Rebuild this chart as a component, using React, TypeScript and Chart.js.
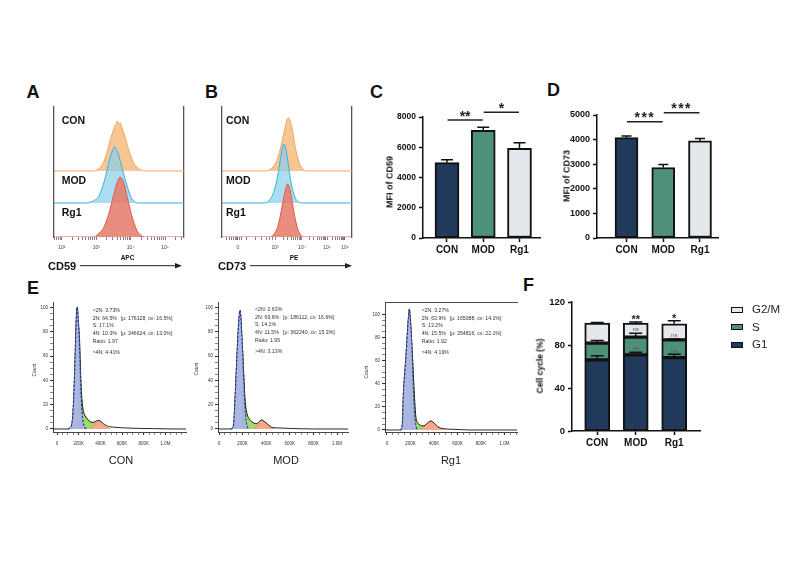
import React, { useEffect, useRef } from 'react';
import { Chart, registerables } from 'chart.js';

Chart.register(...registerables);
const FONT = "'Liberation Sans', Arial, Helvetica, sans-serif";
Chart.defaults.font.family = FONT;
Chart.defaults.color = '#1a1a1a';

type Pt = [number, number];

// ================= DATA =================
const groups = ['CON', 'MOD', 'Rg1'];

// A: CD59 (APC) histograms. x = log10 intensity, y = relative count (% of mode)
const cd59Con: Pt[] = [[1.77,0],[2.95,0],[3.05,4],[3.15,10],[3.25,24],[3.33,42],[3.4,61],[3.47,76],[3.55,91],[3.58,94],[3.62,100],[3.66,93],[3.7,96],[3.74,88],[3.8,76],[3.88,58],[3.95,40],[4.03,25],[4.1,14],[4.18,8],[4.27,3],[4.37,0],[5.55,0]];
const cd59Mod: Pt[] = [[1.77,0],[2.75,0],[2.85,2],[2.95,5],[3.05,10],[3.13,20],[3.2,32],[3.28,50],[3.35,70],[3.42,85],[3.48,95],[3.53,100],[3.58,96],[3.64,88],[3.69,76],[3.76,60],[3.83,44],[3.89,32],[3.96,18],[4.03,8],[4.1,3],[4.18,0],[5.55,0]];
const cd59Rg1: Pt[] = [[1.77,0],[2.95,0],[3.01,3],[3.2,14],[3.35,36],[3.5,69],[3.62,93],[3.69,100],[3.79,92],[3.89,69],[4.03,36],[4.18,11],[4.32,2],[4.4,0],[5.55,0]];
const cd59TickValues = [2, 3, 4, 5];
const cd59TickLabels = ['10²', '10³', '10⁴', '10⁵'];

// B: CD73 (PE) histograms. x = display channel (biexponential), y = relative count
const cd73Con: Pt[] = [[0,0],[340,0],[370,3],[400,10],[430,25],[455,48],[475,70],[490,88],[505,99],[515,100],[530,90],[545,72],[560,50],[580,27],[600,12],[620,4],[645,0],[1000,0]];
const cd73Mod: Pt[] = [[0,0],[330,0],[360,4],[390,14],[415,32],[435,55],[450,75],[462,90],[475,100],[488,95],[500,80],[515,58],[530,36],[550,17],[570,6],[595,1],[615,0],[1000,0]];
const cd73Rg1: Pt[] = [[0,0],[370,0],[395,4],[420,14],[440,30],[460,55],[478,78],[492,93],[505,100],[518,94],[532,78],[548,55],[565,32],[585,14],[605,4],[630,0],[1000,0]];
const cd73TickValues = [123, 408, 615, 808, 946];
const cd73TickLabels = ['0', '10³', '10⁴', '10⁵', '10⁶'];
const cd73LowTicks = [35, 55, 75, 90, 100, 110, 118, 135, 150, 192, 254, 305, 344, 369, 390];

// C: MFI of CD59
const mfiCd59 = [4980, 7120, 5930];
const mfiCd59Err = [200, 200, 370];
// D: MFI of CD73
const mfiCd73 = [4080, 2865, 3945];
const mfiCd73Err = [70, 125, 95];

// E: DNA content histograms (x in K units, y = count)
const conTotal: Pt[] = [[-40,0],[100,0],[120,1],[140,6],[150,18],[160,40],[166,57],[175,85],[181,97],[187,100],[195,90],[206,76],[214,55],[221,37],[230,24],[242,15],[258,11],[274,9],[297,6.5],[320,5.5],[335,5.5],[350,6],[370,6.8],[387,7.2],[405,6.2],[427,4.5],[450,3],[473,2.1],[520,1.5],[581,1.1],[650,0.8],[735,0.5],[888,0.3],[1011,0.1],[1060,0],[1190,0]];
const conG1: Pt[] = [[100,0],[120,1],[140,6],[150,18],[160,40],[166,57],[175,85],[181,97],[187,100],[195,89],[206,73],[214,50],[221,30],[230,15],[242,5],[255,1.5],[270,0]];
const conS: Pt[] = [[199,0],[206,76],[214,55],[221,37],[230,24],[242,15],[258,11],[274,9],[297,6.5],[320,5.5],[335,5.5],[350,5.8],[365,0]];
const conG2: Pt[] = [[300,0],[320,1.5],[340,3.5],[360,5.5],[375,6.6],[387,7],[400,6.1],[415,5],[430,3.5],[450,2],[470,1],[495,0]];

const modTotal: Pt[] = [[-10,0],[100,0],[115,1],[125,5],[136,25],[145,45],[155,66],[162,80],[169,91],[178,97.5],[185,92],[192,80],[199,66],[206,52],[213,38],[220,25],[230,16],[240,11.5],[258,8],[277,6],[298,4.8],[319,4.5],[340,6],[355,7.2],[362,7.4],[380,6.5],[404,4.7],[425,2.8],[447,1.4],[480,1],[540,0.7],[620,0.4],[700,0.2],[800,0],[1095,0]];
const modG1: Pt[] = [[100,0],[115,1],[125,5],[136,25],[145,45],[155,66],[162,80],[169,91],[178,97.5],[185,92],[192,80],[199,66],[206,50],[213,33],[220,18],[230,7],[240,2],[255,0]];
const modS: Pt[] = [[196,0],[199,66],[206,52],[213,38],[220,25],[230,16],[240,11.5],[258,8],[277,6],[298,4.8],[319,4.5],[335,5],[348,5.5],[360,0]];
const modG2: Pt[] = [[290,0],[305,1],[319,2.5],[335,4.8],[350,6.6],[362,7.4],[380,6.5],[404,4.7],[425,2.8],[447,1.2],[470,0.3],[485,0]];

const rg1Total: Pt[] = [[-20,0],[110,0],[125,1],[132,8],[139,30],[150,48],[162,65],[176,88],[183,98],[190,104.5],[197,98],[204,88],[212,73],[219,59],[226,44],[233,30],[240,18],[247,10],[258,6.5],[270,5],[285,4],[300,3.5],[320,4],[340,5.5],[360,7.3],[374,7.8],[390,7],[410,5],[430,3],[455,1.7],[480,1.2],[508,0.8],[560,0.6],[636,0.3],[700,0],[1110,0]];
const rg1G1: Pt[] = [[110,0],[125,1],[132,8],[139,30],[150,48],[162,65],[176,88],[183,98],[190,104.5],[197,98],[204,87],[212,70],[219,52],[226,33],[233,18],[240,8],[250,2],[262,0]];
const rg1S: Pt[] = [[211,0],[215,66],[219,59],[226,44],[233,30],[240,18],[247,10],[258,6.5],[270,5],[285,4],[300,3.5],[320,4],[335,4.5],[348,0]];
const rg1G2: Pt[] = [[280,0],[295,1],[310,2],[325,3.8],[340,5.5],[360,7.3],[374,7.8],[390,7],[410,5],[430,3],[455,1.5],[480,0.6],[500,0]];

const cycleXTickValues = [0, 200, 400, 600, 800, 1000];
const cycleXTickLabels = ['0', '200K', '400K', '600K', '800K', '1.0M'];
const cycleYTickValues = [0, 20, 40, 60, 80, 100];

const conStats = ['<2N: 3.73%', '2N: 64.5%', 'S: 17.1%', '4N: 10.3%', 'Ratio: 1.97', '>4N: 4.41%'];
const conFits = ['', '[μ: 176128, cv: 16.5%]', '', '[μ: 346624, cv: 13.0%]', '', ''];
const modStats = ['<2N: 2.63%', '2N: 69.6%', 'S: 14.1%', '4N: 11.5%', 'Ratio: 1.95', '>4N: 3.13%'];
const modFits = ['', '[μ: 186112, cv: 16.6%]', '', '[μ: 362240, cv: 15.3%]', '', ''];
const rg1Stats = ['<2N: 3.27%', '2N: 63.9%', 'S: 13.2%', '4N: 15.5%', 'Ratio: 1.92', '>4N: 4.19%'];
const rg1Fits = ['', '[μ: 165088, cv: 14.1%]', '', '[μ: 354816, cv: 22.1%]', '', ''];

// F: cell cycle distribution (%)
const phaseNames = ['G2/M', 'S', 'G1'];
const g1Pct = [66.1, 70.8, 68.3];
const sPct = [15.6, 16.6, 16.5];
const g2mPct = [18.7, 13.0, 15.0];
const g1Err = [3.8, 2.5, 3.2];
const sErr = [2.5, 3.6, 0.7];
const g2mErr = [0.6, 1.0, 2.8];

// ================= STYLE =================
const NAVY = '#213a5c';
const GREEN = '#4f9079';
const LIGHT = '#e4e7ec';
const barColors = [NAVY, GREEN, LIGHT];
const ridgeStyles = [
  { fill: 'rgba(246,190,134,0.88)', line: '#f0a45c' },
  { fill: 'rgba(140,206,234,0.72)', line: '#33b0dc' },
  { fill: 'rgba(230,125,108,0.88)', line: '#dd5a48' },
];

const fix = (size: number, horizontal: boolean) => (s: any) => {
  if (horizontal) s.height = size; else s.width = size;
  s.paddingLeft = 0; s.paddingRight = 0; s.paddingTop = 0; s.paddingBottom = 0;
};

const errorPlugin = (cap: number) => ({
  id: 'errBars',
  afterDatasetsDraw(chart: any) {
    const ctx = chart.ctx; const ys = chart.scales.y;
    chart.data.datasets.forEach((ds: any, di: number) => {
      if (!ds.errors) return;
      const meta = chart.getDatasetMeta(di);
      meta.data.forEach((el: any, i: number) => {
        const e = ds.errors[i];
        if (!e) return;
        const topVal = ys.getValueForPixel(el.y);
        const yTop = ys.getPixelForValue(topVal + e);
        ctx.save();
        ctx.strokeStyle = '#111'; ctx.lineWidth = 1.5;
        ctx.beginPath();
        ctx.moveTo(el.x, el.y); ctx.lineTo(el.x, yTop);
        ctx.moveTo(el.x - cap / 2, yTop); ctx.lineTo(el.x + cap / 2, yTop);
        ctx.stroke(); ctx.restore();
      });
    });
  },
});

const annotPlugin = (lines: any[], texts: any[]) => ({
  id: 'annot',
  afterDraw(chart: any) {
    const ctx = chart.ctx; const xs = chart.scales.x; const ys = chart.scales.y;
    lines.forEach((l) => {
      const y = ys.getPixelForValue(l.value);
      ctx.save(); ctx.strokeStyle = '#222'; ctx.lineWidth = 1.5;
      ctx.beginPath();
      ctx.moveTo(xs.getPixelForValue(l.from) + 0.5, y);
      ctx.lineTo(xs.getPixelForValue(l.to) - 0.5, y);
      ctx.stroke(); ctx.restore();
    });
    texts.forEach((t) => {
      ctx.save();
      ctx.font = `${t.weight || 'bold'} ${t.size}px ${FONT}`;
      ctx.fillStyle = t.color || '#222';
      ctx.textAlign = 'center';
      ctx.textBaseline = t.baseline || 'alphabetic';
      if (t.spacing) (ctx as any).letterSpacing = t.spacing + 'px';
      ctx.fillText(t.text, xs.getPixelForValue(t.x), ys.getPixelForValue(t.value));
      ctx.restore();
    });
  },
});

const baseOpts = {
  responsive: false,
  animation: false,
  events: [] as any[],
};

// ---------- ridge (A, B) ----------
function ridgeConfig(series: Pt[][], amps: number[], xMin: number, xMax: number, tickVals: number[], tickLabels: string[], minor: number[]) {
  const bases = [66, 34, 0];
  return {
    type: 'line',
    data: {
      datasets: series.map((pts, i) => ({
        data: pts.map(([x, h]) => ({ x, y: bases[i] + (h * amps[i]) / 100 })),
        fill: { value: bases[i] },
        backgroundColor: ridgeStyles[i].fill,
        borderColor: ridgeStyles[i].line,
        borderWidth: 1,
        pointRadius: 0,
        cubicInterpolationMode: 'monotone',
        order: 3 - i,
      })),
    },
    options: {
      ...baseOpts,
      layout: { autoPadding: false, padding: { left: 0, top: 7, right: 6, bottom: 0 } },
      plugins: { legend: { display: false }, tooltip: { enabled: false } },
      scales: {
        x: {
          type: 'linear', min: xMin, max: xMax, offset: false,
          afterBuildTicks: (s: any) => {
            const all = [...tickVals, ...minor].filter((v) => v >= xMin && v <= xMax).sort((a, b) => a - b);
            s.ticks = all.map((v) => ({ value: v }));
          },
          ticks: {
            autoSkip: false, maxRotation: 0, font: { size: 5 }, color: '#444', padding: 5,
            callback: (v: number) => {
              const k = tickVals.findIndex((t) => Math.abs(t - v) < 1e-6);
              return k >= 0 ? tickLabels[k] : '';
            },
          },
          grid: { drawOnChartArea: false, tickLength: 3, color: '#666', tickWidth: 0.8 },
          border: { display: false },
          afterFit: fix(23, true),
        },
        y: {
          min: 0, max: 130,
          ticks: { display: false },
          grid: { display: false },
          border: { display: true, color: '#555', width: 1.3 },
          afterFit: fix(4, false),
        },
        yR: {
          position: 'right', min: 0, max: 130,
          ticks: { display: false },
          grid: { display: false },
          border: { display: true, color: '#555', width: 1.3 },
          afterFit: fix(0, false),
        },
      },
    },
  };
}

const logMinor: number[] = [];
for (let d = 1; d <= 5; d++) for (let k = 2; k <= 9; k++) logMinor.push(d + Math.log10(k));
const cd73Minor: number[] = [...cd73LowTicks];
for (let j = 1; j < cd73TickValues.length - 1; j++) {
  for (let k = 2; k <= 9; k++) cd73Minor.push(cd73TickValues[j] + Math.log10(k) * (cd73TickValues[j + 1] - cd73TickValues[j]));
}

// ---------- bars (C, D) ----------
function barConfig(vals: number[], errs: number[], o: any) {
  return {
    type: 'bar',
    data: {
      datasets: [{
        data: vals.map((v, i) => ({ x: i + 1, y: v })),
        backgroundColor: barColors,
        borderColor: '#111', borderWidth: 2, borderSkipped: false,
        barThickness: o.thick,
        errors: errs,
      }],
    },
    options: {
      ...baseOpts,
      layout: { autoPadding: false, padding: { left: 0, top: o.padTop, right: o.padRight, bottom: 0 } },
      plugins: { legend: { display: false }, tooltip: { enabled: false } },
      scales: {
        x: {
          type: 'linear', min: o.xMin, max: o.xMax, offset: false,
          afterBuildTicks: (s: any) => { s.ticks = groups.map((_, i) => ({ value: i + 1 })); },
          ticks: { autoSkip: false, maxRotation: 0, font: { size: 10, weight: 'bold' }, color: '#111', padding: 2, callback: (v: number) => groups[Math.round(v) - 1] },
          grid: { drawOnChartArea: false, offset: false, tickLength: 4, color: '#111', tickWidth: 1.5 },
          border: { color: '#111', width: 1.5 },
          afterFit: fix(24, true),
        },
        y: {
          min: 0, max: o.yMax,
          ticks: { stepSize: o.step, font: { size: o.tickSize, weight: 'bold' }, color: '#111', padding: 3, callback: (v: number) => String(v) },
          grid: { drawOnChartArea: false, tickLength: 4, color: '#111', tickWidth: 1.5 },
          border: { color: '#111', width: 1.5 },
          afterFit: fix(o.yWidth, false),
        },
      },
    },
    plugins: [errorPlugin(o.cap), annotPlugin(o.lines, o.texts)],
  };
}

// ---------- cell cycle histograms (E) ----------
function cycleConfig(total: Pt[], g1: Pt[], s: Pt[], g2: Pt[], o: any) {
  const mk = (pts: Pt[], extra: any) => ({ data: pts.map(([x, y]) => ({ x, y })), pointRadius: 0, cubicInterpolationMode: 'monotone', ...extra });
  const scales: any = {
    x: {
      type: 'linear', min: o.xMin, max: o.xMax, offset: false,
      afterBuildTicks: (sc: any) => {
        const t: any[] = [];
        for (let v = 0; v <= o.xMax; v += 50) t.push({ value: v });
        sc.ticks = t;
      },
      ticks: {
        autoSkip: false, maxRotation: 0, font: { size: 4.5 }, color: '#333', padding: 6,
        callback: (v: number) => { const k = cycleXTickValues.indexOf(v); return k >= 0 ? cycleXTickLabels[k] : ''; },
      },
      grid: { drawOnChartArea: false, tickLength: 3, color: '#333', tickWidth: (c: any) => (c.tick && cycleXTickValues.includes(c.tick.value) ? 1.1 : 0.6) },
      border: { color: '#333', width: 0.9 },
      afterFit: fix(23, true),
    },
    y: {
      min: o.yMin, max: o.yMax,
      afterBuildTicks: (sc: any) => {
        const t: any[] = [];
        for (let v = 0; v <= 100; v += 5) t.push({ value: v });
        sc.ticks = t;
      },
      ticks: { autoSkip: false, font: { size: 4.5 }, color: '#333', padding: 2, callback: (v: number) => (cycleYTickValues.includes(v) ? String(v) : '') },
      grid: { drawOnChartArea: false, tickLength: 3, color: '#333', tickWidth: (c: any) => (c.tick && cycleYTickValues.includes(c.tick.value) ? 1.1 : 0.6) },
      border: { color: '#333', width: 0.9 },
      afterFit: fix(28, false),
    },
  };
  if (o.frameTop) {
    scales.xTop = {
      type: 'linear', position: 'top', min: 0, max: 1,
      ticks: { display: false }, grid: { display: false },
      border: { display: true, color: '#333', width: 0.9 },
      afterFit: fix(0, true),
    };
  }
  return {
    type: 'line',
    data: {
      datasets: [
        mk(s, { fill: 'origin', backgroundColor: '#a2d870', borderColor: '#6cbf3c', borderWidth: 0.6, order: 5 }),
        mk(g2, { fill: 'origin', backgroundColor: '#f5a98a', borderColor: '#e5825a', borderWidth: 0.6, order: 4 }),
        mk(total, { fill: false, borderColor: '#111', borderWidth: 0.9, order: 3 }),
        mk(g1, { fill: 'origin', backgroundColor: 'rgba(168,178,226,0.95)', borderColor: '#1f318c', borderWidth: 1.1, borderDash: [2.5, 1.5], order: 2 }),
      ],
    },
    options: {
      ...baseOpts,
      layout: { autoPadding: false, padding: { left: 0, top: o.padTop, right: 7, bottom: 0 } },
      plugins: { legend: { display: false }, tooltip: { enabled: false } },
      scales,
    },
  };
}

// ---------- stacked (F) ----------
function stackConfig() {
  const phases = [
    { name: 'G1', vals: g1Pct, err: g1Err, color: NAVY },
    { name: 'S', vals: sPct, err: sErr, color: GREEN },
    { name: 'G2/M', vals: g2mPct, err: g2mErr, color: LIGHT },
  ];
  return {
    type: 'bar',
    data: {
      datasets: phases.map((p) => ({
        label: p.name,
        data: p.vals.map((v, i) => ({ x: i + 1, y: v })),
        backgroundColor: p.color,
        borderColor: '#111', borderWidth: 2, borderSkipped: false,
        barThickness: 25,
        errors: p.err,
      })),
    },
    options: {
      ...baseOpts,
      layout: { autoPadding: false, padding: { left: 0, top: 12, right: 10, bottom: 0 } },
      plugins: { legend: { display: false }, tooltip: { enabled: false } },
      scales: {
        x: {
          type: 'linear', min: 0.345, max: 3.67, offset: false, stacked: true,
          afterBuildTicks: (s: any) => { s.ticks = groups.map((_, i) => ({ value: i + 1 })); },
          ticks: { autoSkip: false, maxRotation: 0, font: { size: 10, weight: 'bold' }, color: '#111', padding: 2, callback: (v: number) => groups[Math.round(v) - 1] },
          grid: { drawOnChartArea: false, offset: false, tickLength: 4, color: '#111', tickWidth: 1.5 },
          border: { color: '#111', width: 1.5 },
          afterFit: fix(24, true),
        },
        y: {
          min: 0, max: 120, stacked: true,
          ticks: { stepSize: 40, font: { size: 9.5, weight: 'bold' }, color: '#111', padding: 3, callback: (v: number) => String(v) },
          grid: { drawOnChartArea: false, tickLength: 4, color: '#111', tickWidth: 1.5 },
          border: { color: '#111', width: 1.5 },
          afterFit: fix(47, false),
        },
      },
    },
    plugins: [
      errorPlugin(13),
      annotPlugin([], [
        { x: 2, value: 100.3, text: '**', size: 11 },
        { x: 3, value: 101.2, text: '*', size: 11 },
        { x: 2, value: 94.6, text: 'ns', size: 6, weight: 'normal', color: '#555', baseline: 'middle' },
        { x: 2, value: 76.6, text: 'ns', size: 6, weight: 'normal', color: '#555', baseline: 'middle' },
        { x: 3, value: 89.2, text: 'ns', size: 6, weight: 'normal', color: '#555', baseline: 'middle' },
        { x: 3, value: 74.2, text: 'ns', size: 6, weight: 'normal', color: '#555', baseline: 'middle' },
      ]),
    ],
  };
}

// ================= COMPONENTS =================
function ChartCanvas({ x, y, w, h, make }: any) {
  const ref = useRef<HTMLCanvasElement | null>(null);
  useEffect(() => {
    if (!ref.current) return;
    const chart = new Chart(ref.current, make());
    return () => chart.destroy();
  }, []);
  return <canvas ref={ref} width={w} height={h} style={{ position: 'absolute', left: x, top: y, width: w, height: h, display: 'block' }} />;
}

function Txt({ x, y, s, b, a = 'l', c = '#111', r, children }: any) {
  const tx = a === 'c' ? '-50%' : a === 'r' ? '-100%' : '0';
  const transform = r ? 'translate(-50%,-50%) rotate(-90deg)' : `translate(${tx},-50%)`;
  return (
    <div style={{ position: 'absolute', left: x, top: y, fontSize: s, lineHeight: `${s}px`, fontWeight: b ? 700 : 400, color: c, whiteSpace: 'pre', transform, fontFamily: FONT }}>
      {children}
    </div>
  );
}

function StatsBlock({ x, y, stats, fits }: any) {
  const offs = [0, 7.7, 15.3, 23, 30.7, 42.3];
  return (
    <>
      {stats.map((t: string, i: number) => (
        <React.Fragment key={i}>
          <Txt x={x} y={y + offs[i]} s={5.2} c="#333">{t}</Txt>
          {fits[i] ? <Txt x={x + 28} y={y + offs[i]} s={5.2} c="#333">{fits[i]}</Txt> : null}
        </React.Fragment>
      ))}
    </>
  );
}

export default function App() {
  return (
    <div style={{ position: 'absolute', left: 0, top: 0, width: 794, height: 562, background: '#fff', overflow: 'hidden', fontFamily: FONT }}>
      {/* Panel letters */}
      <Txt x={26.5} y={91.7} s={18} b>A</Txt>
      <Txt x={205} y={91.5} s={18} b>B</Txt>
      <Txt x={370} y={91.5} s={18} b>C</Txt>
      <Txt x={547} y={90} s={18} b>D</Txt>
      <Txt x={27} y={287.5} s={18} b>E</Txt>
      <Txt x={523} y={285} s={18} b>F</Txt>

      {/* A */}
      <ChartCanvas x={50} y={100} w={140} h={160} make={() => ridgeConfig([cd59Con, cd59Mod, cd59Rg1], [50, 56, 60], 1.77, 5.55, cd59TickValues, cd59TickLabels, logMinor)} />
      <Txt x={61.7} y={120} s={10.5} b>{groups[0]}</Txt>
      <Txt x={61.7} y={180.2} s={10.5} b>{groups[1]}</Txt>
      <Txt x={61.7} y={212} s={10.5} b>{groups[2]}</Txt>
      <Txt x={127.5} y={257.5} s={6.5} b a="c">APC</Txt>
      <Txt x={48} y={265.7} s={11} b>CD59</Txt>

      {/* B */}
      <ChartCanvas x={218} y={100} w={140} h={160} make={() => ridgeConfig([cd73Con, cd73Mod, cd73Rg1], [53, 59, 53], 0, 1000, cd73TickValues, cd73TickLabels, cd73Minor)} />
      <Txt x={226} y={120} s={10.5} b>{groups[0]}</Txt>
      <Txt x={226} y={180.2} s={10.5} b>{groups[1]}</Txt>
      <Txt x={226} y={212} s={10.5} b>{groups[2]}</Txt>
      <Txt x={294} y={257.5} s={6.5} b a="c">PE</Txt>
      <Txt x={218} y={265.7} s={11} b>CD73</Txt>

      <svg width={794} height={562} style={{ position: 'absolute', left: 0, top: 0, pointerEvents: 'none' }}>
        <line x1={80} y1={265.7} x2={178} y2={265.7} stroke="#222" strokeWidth={1} />
        <polygon points="182,265.7 175,263 175,268.4" fill="#222" />
        <line x1={250} y1={265.7} x2={348} y2={265.7} stroke="#222" strokeWidth={1} />
        <polygon points="352,265.7 345,263 345,268.4" fill="#222" />
      </svg>

      {/* C */}
      <ChartCanvas x={380} y={92} w={165} h={170} make={() => barConfig(mfiCd59, mfiCd59Err, {
        thick: 24, padTop: 25, padRight: 5, xMin: 0.338, xMax: 3.566, yMax: 8000, step: 2000, tickSize: 8.5, yWidth: 43, cap: 12,
        lines: [{ from: 1, to: 2, value: 7800 }, { from: 2, to: 3, value: 8310 }],
        texts: [{ x: 1.5, value: 7710, text: '**', size: 14 }, { x: 2.5, value: 8258, text: '*', size: 14 }],
      })} />
      <Txt x={390} y={181.7} s={9} b r>MFI of CD59</Txt>

      {/* D */}
      <ChartCanvas x={552} y={92} w={175} h={170} make={() => barConfig(mfiCd73, mfiCd73Err, {
        thick: 23, padTop: 23, padRight: 9, xMin: 0.197, xMax: 3.49, yMax: 5000, step: 1000, tickSize: 9, yWidth: 45, cap: 10,
        lines: [{ from: 1, to: 2, value: 4728 }, { from: 2, to: 3, value: 5093 }],
        texts: [{ x: 1.5, value: 4712, text: '***', size: 14, spacing: 1.5 }, { x: 2.5, value: 5077, text: '***', size: 14, spacing: 1.5 }],
      })} />
      <Txt x={566.7} y={175.7} s={9} b r>MFI of CD73</Txt>

      {/* E */}
      <ChartCanvas x={25} y={295} w={168} h={160} make={() => cycleConfig(conTotal, conG1, conS, conG2, { xMin: -37, xMax: 1189, yMin: -2.47, yMax: 104.4, padTop: 7 })} />
      <ChartCanvas x={190} y={295} w={165} h={160} make={() => cycleConfig(modTotal, modG1, modS, modG2, { xMin: -8.5, xMax: 1093, yMin: -2.47, yMax: 104.4, padTop: 7 })} />
      <ChartCanvas x={357} y={295} w={167} h={160} make={() => cycleConfig(rg1Total, rg1G1, rg1S, rg1G2, { xMin: -17, xMax: 1106, yMin: -1.73, yMax: 110.6, padTop: 7, frameTop: true })} />
      <Txt x={35} y={369.5} s={4.8} c="#333" r>Count</Txt>
      <Txt x={196.5} y={369} s={4.8} c="#333" r>Count</Txt>
      <Txt x={367} y={372} s={4.8} c="#333" r>Count</Txt>
      <StatsBlock x={92.7} y={311} stats={conStats} fits={conFits} />
      <StatsBlock x={255} y={310} stats={modStats} fits={modFits} />
      <StatsBlock x={421.7} y={311} stats={rg1Stats} fits={rg1Fits} />
      <Txt x={121} y={459.5} s={11} a="c" c="#1a1a1a">{groups[0]}</Txt>
      <Txt x={286} y={459.5} s={11} a="c" c="#1a1a1a">{groups[1]}</Txt>
      <Txt x={451} y={459.5} s={11} a="c" c="#1a1a1a">{groups[2]}</Txt>

      {/* F */}
      <ChartCanvas x={525} y={290} w={185} h={165} make={stackConfig} />
      <Txt x={540} y={365.7} s={8.5} b r>Cell cycle (%)</Txt>
      {phaseNames.map((n, i) => (
        <React.Fragment key={n}>
          <div style={{ position: 'absolute', left: 731, top: [310, 327.5, 345][i] - 3.5, width: 10, height: 4, border: '1.5px solid #111', background: [LIGHT, GREEN, NAVY][i] }} />
          <Txt x={752} y={[310, 327.5, 345][i]} s={11.5} c="#222">{n}</Txt>
        </React.Fragment>
      ))}
    </div>
  );
}
